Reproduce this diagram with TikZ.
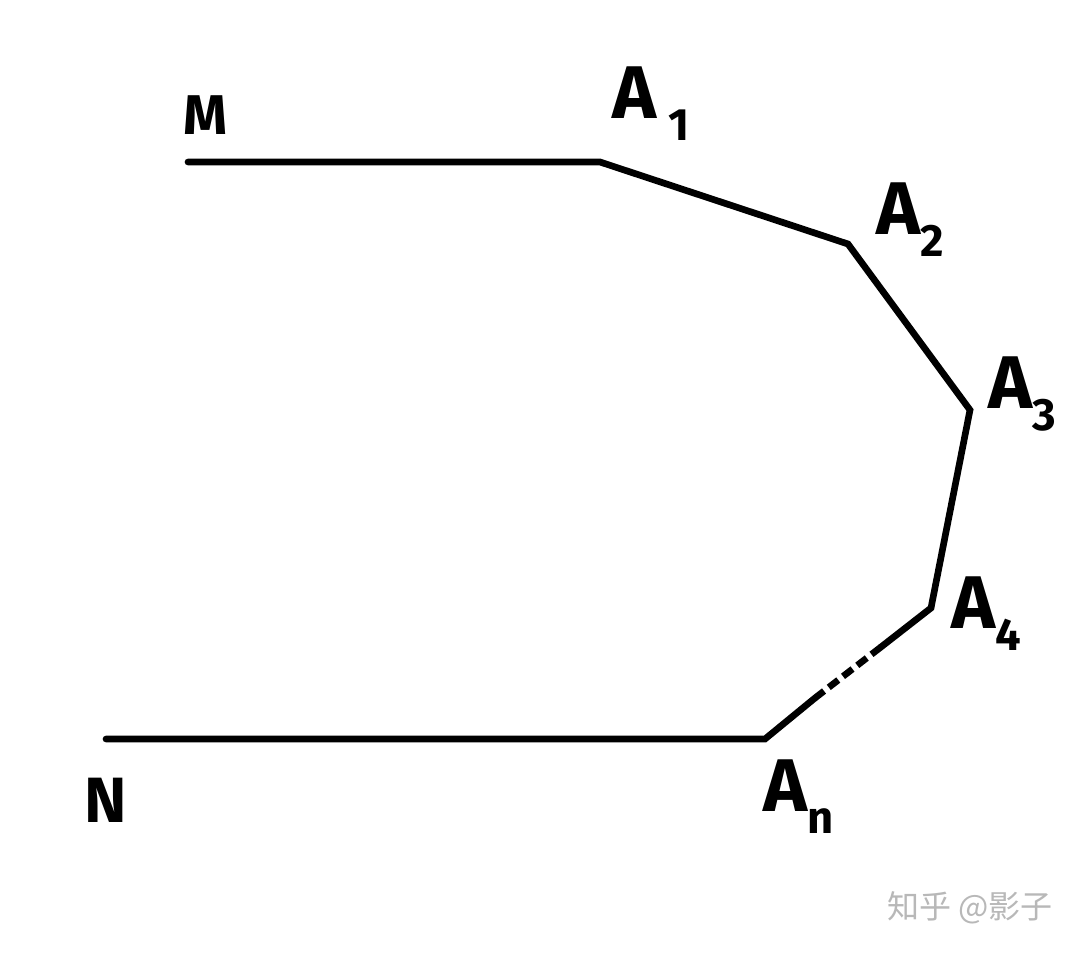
\documentclass[tikz,border=0pt]{standalone}
\usepackage{fontspec}
\setmainfont{Fira Sans}
\newfontfamily\cjk{Noto Sans CJK SC}
\newcommand{\sbs}[1]{\raisebox{-0.3em}{\fontsize{34}{34}\selectfont #1}}
\tikzset{
  edge/.style={line width=5pt, line cap=round, line join=miter},
  dashpart/.style={line width=5pt, dash pattern=on 9pt off 4.5pt},
  lbl/.style={font=\fontsize{56}{56}\selectfont\bfseries, inner sep=0pt, anchor=base west},
}
\begin{document}
\begin{tikzpicture}[x=0.75pt,y=-0.75pt]
\useasboundingbox[fill=white] (0,0) rectangle (1082,953);
\coordinate (M) at (188,162);
\coordinate (A1) at (600,162);
\coordinate (A2) at (848,244);
\coordinate (A3) at (970,410);
\coordinate (A4) at (931,608);
\coordinate (D1) at (881,647);
\coordinate (D2) at (815,698);
\coordinate (An) at (765,739);
\coordinate (N) at (106,739);
\draw[edge] (M) -- (A1) -- (A2) -- (A3) -- (A4) -- (D1);
\draw[dashpart] (D1) -- (D2);
\draw[edge] (D2) -- (An) -- (N);
\node[lbl, font=\fontsize{42}{42}\selectfont\bfseries] (lM) at (183,134) {M};
\node[lbl] (lA1) at (612,118) {A\,\sbs{1}};
\node[lbl] (lA2) at (876,234) {A\sbs{2}};
\node[lbl] (lA3) at (988,408) {A\sbs{3}};
\node[lbl] (lA4) at (951,628) {A\sbs{4}};
\node[lbl] (lAn) at (763,811) {A\sbs{n}};
\node[lbl, font=\fontsize{48}{48}\selectfont\bfseries] (lN) at (84,822) {N};
\node[font=\cjk\fontsize{24}{24}\selectfont, text=black!28, inner sep=0pt] (wm) at (970,908) {知乎 @影子};
\end{tikzpicture}
\end{document}
